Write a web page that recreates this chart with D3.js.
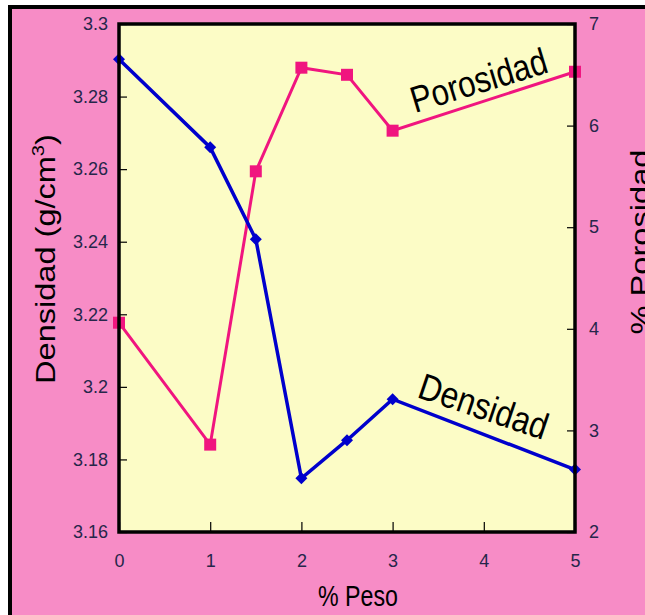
<!DOCTYPE html>
<html><head><meta charset="utf-8">
<script src="https://cdn.jsdelivr.net/npm/d3@7"></script>
<style>body{margin:0;background:#fff}svg{display:block}</style>
</head><body>
<svg id="c" width="645" height="615"></svg>
<script>
const pesoX = [0, 1, 1.5, 2, 2.5, 3, 5];
const densidad = [3.2903, 3.2660, 3.2407, 3.1748, 3.1853, 3.1966, 3.1772];
const porosidad = [4.06, 2.86, 5.55, 6.57, 6.50, 5.95, 6.53];
const xTicks = [0, 1, 2, 3, 4, 5];
const yLeftTicks = [3.16, 3.18, 3.2, 3.22, 3.24, 3.26, 3.28, 3.3];
const yRightTicks = [2, 3, 4, 5, 6, 7];

const svg = d3.select("#c");
const PINK = "#f78cc6", YEL = "#fcfcc6", BLUE = "#0000cc", MAG = "#f0157f";
const NARROW = "'Liberation Sans Narrow','Arial Narrow','Liberation Sans',Arial,sans-serif";
const SANS = "'Liberation Sans',Arial,sans-serif";
const L = 119, R = 575, T = 24, B = 532;

svg.append("rect").attr("x", 10).attr("y", 7).attr("width", 650).attr("height", 620)
  .attr("fill", PINK).attr("stroke", "#000").attr("stroke-width", 4);

const x = d3.scaleLinear().domain([0, 5]).range([L, R]);
const yL = d3.scaleLinear().domain([3.16, 3.3]).range([B, T]);
const yR = d3.scaleLinear().domain([2, 7]).range([B, T]);

svg.append("rect").attr("x", L).attr("y", T).attr("width", R - L).attr("height", B - T)
  .attr("fill", YEL);

function styleAxis(g) {
  g.select(".domain").remove();
  g.selectAll(".tick line").attr("stroke", "#000").attr("stroke-width", 1.2);
  g.selectAll(".tick text").attr("fill", "#26264a").style("font-family", NARROW).style("font-size", "18px");
}
svg.append("g").attr("transform", `translate(${L},0)`)
  .call(d3.axisLeft(yL).tickValues(yLeftTicks).tickFormat(d => String(+d.toFixed(2)))
    .tickSizeInner(-8).tickSizeOuter(0).tickPadding(11)).call(styleAxis);
svg.append("g").attr("transform", `translate(${R},0)`)
  .call(d3.axisRight(yR).tickValues(yRightTicks).tickFormat(d3.format("d"))
    .tickSizeInner(-8).tickSizeOuter(0).tickPadding(14)).call(styleAxis);
svg.append("g").attr("transform", `translate(0,${B})`)
  .call(d3.axisBottom(x).tickValues(xTicks).tickFormat(d3.format("d"))
    .tickSizeInner(-10).tickSizeOuter(0).tickPadding(22)).call(styleAxis);

// lines
const dens = pesoX.map((v, i) => [v, densidad[i]]);
const poro = pesoX.map((v, i) => [v, porosidad[i]]);
svg.append("path").datum(poro).attr("fill", "none").attr("stroke", MAG).attr("stroke-width", 3)
  .attr("d", d3.line().x(d => x(d[0])).y(d => yR(d[1])));
svg.append("path").datum(dens).attr("fill", "none").attr("stroke", BLUE).attr("stroke-width", 3.5)
  .attr("d", d3.line().x(d => x(d[0])).y(d => yL(d[1])));

svg.selectAll(".sq").data(poro).join("path").attr("class", "sq")
  .attr("transform", d => `translate(${x(d[0])},${yR(d[1])})`)
  .attr("d", d3.symbol(d3.symbolSquare, 144)).attr("fill", MAG);
svg.selectAll(".dm").data(dens).join("path").attr("class", "dm")
  .attr("transform", d => `translate(${x(d[0])},${yL(d[1])}) rotate(45)`)
  .attr("d", d3.symbol(d3.symbolSquare, 72)).attr("fill", BLUE);

// frame
svg.append("rect").attr("x", L).attr("y", T).attr("width", R - L).attr("height", B - T)
  .attr("fill", "none").attr("stroke", "#000").attr("stroke-width", 3.5);

// fitted text helper
function fitText(txt, cx, cy, rot, size, len, anchor, family, sup) {
  const g = svg.append("g");
  const t = g.append("text").style("font-family", family).style("font-size", size + "px")
    .attr("fill", "#000").attr("text-anchor", anchor);
  t.append("tspan").text(txt);
  if (sup) {
    t.append("tspan").text(sup).attr("dy", -size * 0.4).style("font-size", (size * 0.62) + "px");
    t.append("tspan").text(")").attr("dy", size * 0.4);
  }
  const w = t.node().getComputedTextLength();
  g.attr("transform", `translate(${cx},${cy}) rotate(${rot}) scale(${len / w},1)`);
}
fitText("Densidad (g/cm", 55, 259, -90, 28, 250, "middle", SANS, "3");
fitText("% Porosidad", 650, 242, -90, 28, 185, "middle", SANS);
fitText("% Peso", 358, 606, 0, 29, 80, "middle", NARROW);
fitText("Porosidad", 415, 113, -16.9, 37, 141, "start", NARROW);
fitText("Densidad", 416, 397, 18.7, 37, 134, "start", NARROW);
</script>
</body></html>
